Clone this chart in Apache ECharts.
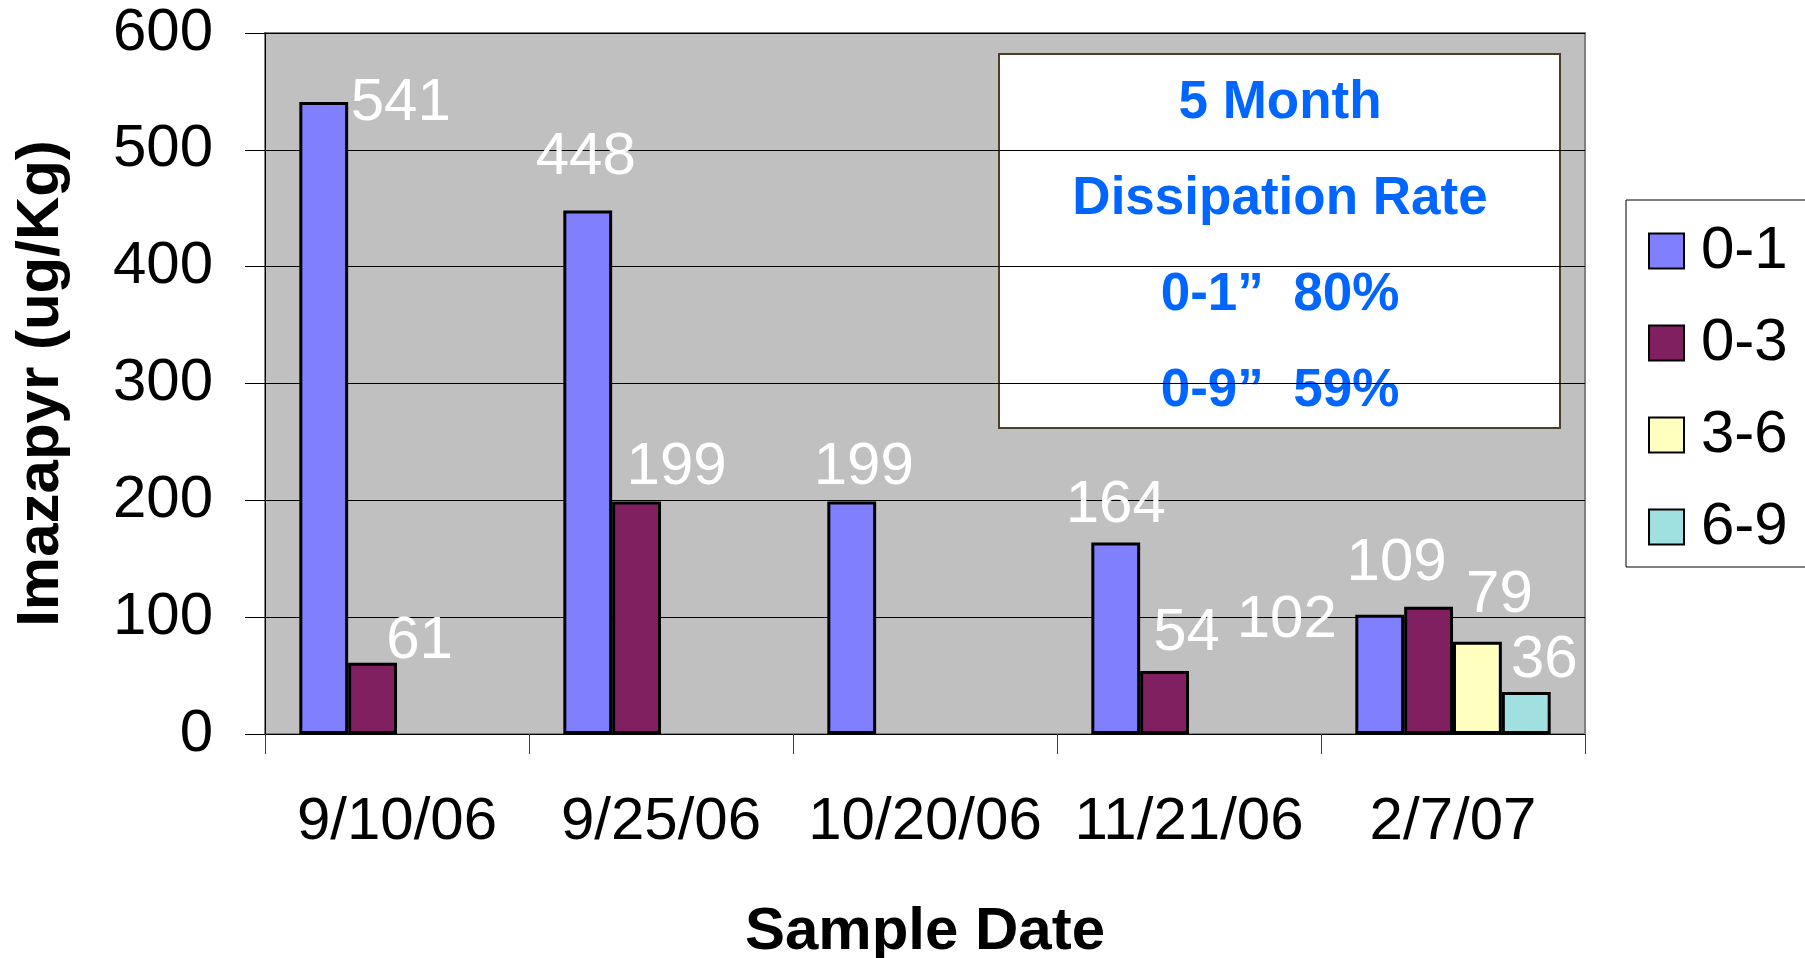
<!DOCTYPE html>
<html>
<head>
<meta charset="utf-8">
<title>Imazapyr dissipation by sample date</title>
<script src="https://cdn.jsdelivr.net/npm/echarts@6/dist/echarts.min.js"></script>
<style>
  html, body { margin: 0; padding: 0; background: #ffffff; }
  #chart { width: 1805px; height: 958px; }
</style>
</head>
<body>
<div id="chart"></div>
<script>
// Sample dates along the x axis
const categories = ['9/10/06', '9/25/06', '10/20/06', '11/21/06', '2/7/07'];

// Imazapyr residue (ug/Kg) per soil depth band (inches)
const depth0to1 = [541, 448, 199, 164, 102];
const depth0to3 = [61, 199, null, 54, 109];
const depth3to6 = [null, null, null, null, 79];
const depth6to9 = [null, null, null, null, 36];

const seriesNames = ['0-1', '0-3', '3-6', '6-9'];
const yTicks = { min: 0, max: 600, step: 100 };

// Summary box lines
const noteLines = ['5 Month', 'Dissipation Rate', '0-1\u201d  80%', '0-9\u201d  59%'];

const FONT = '"Liberation Sans", Arial, Helvetica, sans-serif';
const colors = ['#8080FF', '#802060', '#FFFFC0', '#A0E0E0'];

// Hand-placed value labels: [dx, dy] nudges from the default "top" spot
const labelNudge = [
  [[77, 32], [-2, -23], [12, -4], [0, -7], [-93, 36]],
  [[47, 9], [40, -4], null, [22, -7], [-32, -13]],
  [null, null, null, null, [22, -16]],
  [null, null, null, null, [18, -1]]
];

const seriesData = [depth0to1, depth0to3, depth3to6, depth6to9];

const series = seriesData.map(function (values, s) {
  return {
    name: seriesNames[s],
    type: 'bar',
    barGap: '0%',
    barCategoryGap: '26%',
    itemStyle: { color: colors[s], borderColor: '#000000', borderWidth: 3 },
    data: values.map(function (v, i) {
      if (v === null) return null;
      const nudge = labelNudge[s][i] || [0, 0];
      return {
        value: v,
        label: { offset: nudge }
      };
    }),
    label: {
      show: true,
      position: 'top',
      distance: 0,
      color: '#ffffff',
      fontFamily: FONT,
      fontSize: 60
    },
    emphasis: { disabled: true },
    animation: false
  };
});

const chart = echarts.init(document.getElementById('chart'), null, { renderer: 'canvas' });

chart.setOption({
  backgroundColor: '#ffffff',
  animation: false,
  grid: {
    left: 265,
    right: 220,
    top: 33,
    bottom: 224,
    outerBoundsMode: 'none',
    containLabel: false,
    show: true,
    backgroundColor: '#C0C0C0',
    borderColor: '#808080',
    borderWidth: 2
  },
  legend: {
    orient: 'vertical',
    left: 1626,
    top: 200,
    padding: [21, 40, 10, 22],
    itemGap: 32,
    itemWidth: 35,
    itemHeight: 35,
    icon: 'rect',
    borderColor: '#000000',
    borderWidth: 1,
    backgroundColor: '#ffffff',
    selectedMode: false,
    textStyle: {
      fontFamily: FONT,
      fontSize: 60,
      color: '#000000',
      padding: [0, 0, 0, 12]
    },
    data: seriesNames
  },
  xAxis: {
    type: 'category',
    data: categories,
    name: 'Sample Date',
    nameLocation: 'middle',
    nameGap: 168,
    nameTextStyle: { fontFamily: FONT, fontSize: 60, fontWeight: 'bold', color: '#000000' },
    axisLine: { show: true, lineStyle: { color: '#000000', width: 1 } },
    axisTick: { show: true, alignWithLabel: false, length: 20, lineStyle: { color: '#404040', width: 1 } },
    axisLabel: { fontFamily: FONT, fontSize: 60, color: '#000000', margin: 58, interval: 0 },
    splitLine: { show: false }
  },
  yAxis: {
    type: 'value',
    min: yTicks.min,
    max: yTicks.max,
    interval: yTicks.step,
    name: 'Imazapyr (ug/Kg)',
    nameLocation: 'middle',
    nameGap: 194,
    nameTextStyle: { fontFamily: FONT, fontSize: 60, fontWeight: 'bold', color: '#000000' },
    axisLine: { show: true, lineStyle: { color: '#000000', width: 1 } },
    axisTick: { show: true, inside: false, length: 20, lineStyle: { color: '#000000', width: 1 } },
    axisLabel: { fontFamily: FONT, fontSize: 60, color: '#000000', margin: 52 },
    splitLine: { show: true, lineStyle: { color: '#000000', width: 1 } }
  },
  graphic: [
    {
      type: 'group',
      z: 100,
      children: [
        {
          type: 'rect',
          shape: { x: 999, y: 54, width: 561, height: 374 },
          style: { fill: '#ffffff', stroke: '#4d3f26', lineWidth: 2 }
        },
        {
          type: 'text',
          x: 1280,
          y: 247,
          style: {
            text: noteLines.join('\n'),
            fontFamily: FONT,
            fontSize: 53,
            fontWeight: 'bold',
            lineHeight: 96,
            fill: '#0066FF',
            align: 'center',
            verticalAlign: 'middle'
          }
        }
      ]
    }
  ],
  series: series
});
</script>
</body>
</html>
